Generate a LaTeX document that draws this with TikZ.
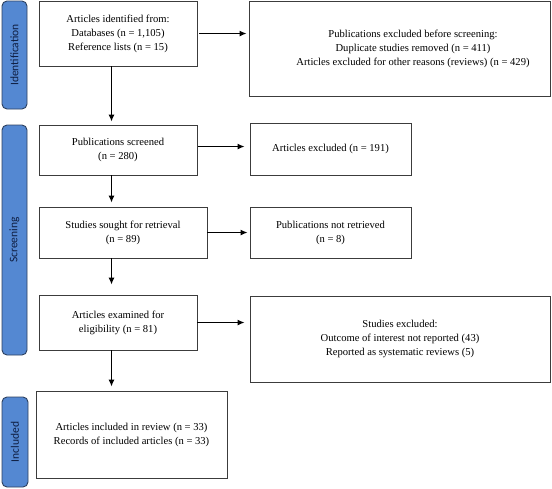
\documentclass[tikz,border=0pt]{standalone}
\usepackage{fontspec}
\setmainfont{Liberation Serif}
\newfontfamily\labfont{Carlito}
\usetikzlibrary{arrows.meta}
\definecolor{labfill}{RGB}{84,136,210}
\definecolor{labdraw}{RGB}{45,65,95}
\definecolor{labtext}{RGB}{15,30,65}
\definecolor{boxdraw}{RGB}{60,60,60}
\tikzset{
  box/.style={draw=boxdraw, line width=0.9pt, rectangle, inner sep=0pt, align=center,
    font=\fontsize{10.6}{14}\selectfont},
  txt/.style={inner sep=0pt, align=center, font=\fontsize{10.6}{14}\selectfont},
  lab/.style={draw=labdraw, fill=labfill, line width=0.9pt, rounded corners=5pt, inner sep=0pt,
    minimum width=25pt},
  labtxt/.style={rotate=90, text=labtext, inner sep=0pt, font=\labfont\fontsize{11.5}{13}\selectfont},
  arr/.style={-{Latex[length=7pt,width=6pt]}, line width=1.2pt, black},
}
\begin{document}
\begin{tikzpicture}[x=1pt,y=-1pt]
\useasboundingbox (0,0) rectangle (552,488);
% phase labels
\node[lab, minimum height=108pt] (L1) at (14.5,55) {};
\node[labtxt] (L1t) at (L1.center) {Identification};
\node[lab, minimum height=230pt] (L2) at (14.5,240) {};
\node[labtxt] (L2t) at (L2.center) {Screening};
\node[lab, minimum height=90pt, minimum width=26pt] (L3) at (15,442) {};
\node[labtxt] (L3t) at (L3.center) {Included};
% boxes
\node[box, minimum width=158pt, minimum height=65pt] (A) at (118,33.5)
  {Articles identified from:\\Databases (n = 1,105)\\Reference lists (n = 15)};
\node[box, minimum width=301pt, minimum height=95pt] (B) at (399.5,48.5) {};
\node[txt] (Bt) at (413,48.5)
  {Publications excluded before screening:\\Duplicate studies removed (n = 411)\\Articles excluded for other reasons (reviews) (n = 429)};
\node[box, minimum width=158pt, minimum height=50pt] (C) at (118,150)
  {Publications screened\\(n = 280)};
\node[box, minimum width=161pt, minimum height=52pt] (D) at (330.5,149)
  {Articles excluded (n = 191)};
\node[box, minimum width=168pt, minimum height=51pt] (E) at (123,232.5)
  {Studies sought for retrieval\\(n = 89)};
\node[box, minimum width=161pt, minimum height=51pt] (F) at (330.5,232.5)
  {Publications not retrieved\\(n = 8)};
\node[box, minimum width=158pt, minimum height=55pt] (G) at (118,322.5)
  {Articles examined for\\eligibility (n = 81)};
\node[box, minimum width=300pt, minimum height=86pt] (H) at (400,339)
  {Studies excluded:\\Outcome of interest not reported (43)\\Reported as systematic reviews (5)};
\node[box, minimum width=191pt, minimum height=87pt] (I) at (131.5,434.5)
  {Articles included in review (n = 33)\\Records of included articles (n = 33)};
% connectors
\coordinate (vx) at (111.5,0);
\draw[arr, shorten <=2pt, shorten >=2pt] (A.east) -- (A.east -| B.west);
\draw[arr, shorten <=1pt, shorten >=5pt] ([yshift=3.5pt]C.east) -- ([yshift=3.5pt]C.east -| D.west);
\draw[arr, shorten <=0pt, shorten >=2pt] (E.east) -- (E.east -| F.west);
\draw[arr, shorten <=0pt, shorten >=5pt] (G.east) -- (G.east -| H.west);
\draw[arr, shorten >=3pt] (A.south -| vx) -- (C.north -| vx);
\draw[arr, shorten >=4pt] (C.south -| vx) -- (E.north -| vx);
\draw[arr, shorten >=10pt] (E.south -| vx) -- (G.north -| vx);
\draw[arr, shorten >=4pt] (G.south -| vx) -- (I.north -| vx);
\end{tikzpicture}
\end{document}
